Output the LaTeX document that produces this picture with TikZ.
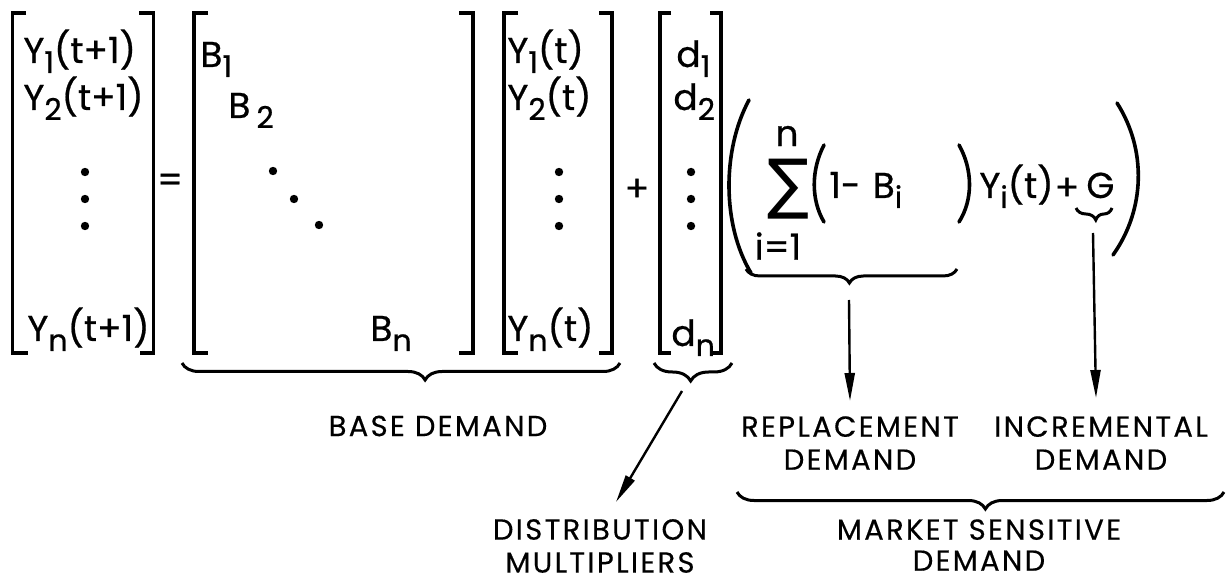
\documentclass[tikz,border=0pt]{standalone}
\usepackage{fontspec}
\setmainfont{Poppins}[FakeBold=0.6]
\newfontfamily\symfont{DejaVu Sans}
\newfontfamily\lblfont{Poppins}[LetterSpace=8, FakeBold=0.4]
\usetikzlibrary{arrows.meta,decorations.pathreplacing}
\tikzset{
  >={Triangle[length=14pt,width=5pt]},
  bkt/.style={line width=1.6pt, line join=miter},
  prn/.style={line width=1.8pt, line cap=round},
  brc/.style args={#1/#2}{
    decorate, line width=1.5pt,
    decoration={brace, mirror, amplitude=#1, aspect=#2}
  },
  arr/.style={->, line width=1.2pt},
  ent/.style={inner sep=0pt, anchor=base west, font=\fontsize{18}{20}\selectfont},
  sym/.style={inner sep=0pt, font=\fontsize{18}{20}\selectfont},
  lbl/.style={inner sep=0pt, align=center, font=\lblfont\fontsize{14.5}{16.5}\selectfont},
  dotc/.style={fill, circle, inner sep=0pt, minimum size=4.2pt},
}
\newcommand\sub[1]{\raisebox{-5pt}{\fontsize{15}{15}\selectfont #1}}

\begin{document}
\begin{tikzpicture}[x=0.5pt, y=-0.5pt]
  \useasboundingbox (0,0) rectangle (1226,582);

  % left hand side
  \draw[bkt] (26,13) -- (12.5,13) -- (12.5,353) -- (28,353);
  \draw[bkt] (139,13) -- (153.5,13) -- (153.5,353) -- (140,353);
  \node[ent] (lhs1) at (23,63) {Y\sub{1}(t+1)};
  \node[ent] (lhs2) at (23,110) {Y\sub{2}(t+1)};
  \node[ent] (lhsn) at (27,341) {Y\sub{n}(t+1)};
  \foreach \yy in {172,199,226} \node[dotc] at (85,\yy) {};

  \node[sym] (eq) at (170,183) {=};

  % diagonal matrix
  \draw[bkt] (208,13) -- (194,13) -- (194,353) -- (208,353);
  \draw[bkt] (459,13) -- (473,13) -- (473,353) -- (459,353);
  \node[ent] (b1) at (200,67) {B\sub{1}};
  \node[ent] (b2) at (228,118) {B\,\sub{2}};
  \node[ent] (bn) at (370,341) {B\sub{n}};
  \node[dotc] (dg1) at (273,171) {};
  \node[dotc] (dg2) at (294,199) {};
  \node[dotc] (dg3) at (319,225) {};

  % Y(t)
  \draw[bkt] (518,13) -- (504,13) -- (504,353) -- (518,353);
  \draw[bkt] (599,13) -- (612,13) -- (612,353) -- (599,353);
  \node[ent] (y1) at (507,63) {Y\sub{1}(t)};
  \node[ent] (y2) at (507,110) {Y\sub{2}(t)};
  \node[ent] (yn) at (507,341) {Y\sub{n}(t)};
  \foreach \yy in {172,199,226} \node[dotc] at (559,\yy) {};

  \node[sym] (plus) at (637,190) {+};

  % d vector
  \draw[bkt] (671,13) -- (660,13) -- (660,353) -- (671,353);
  \draw[bkt] (710,13) -- (721,13) -- (721,353) -- (710,353);
  \node[ent] (d1) at (676,67) {d\sub{1}};
  \node[ent] (d2) at (673,110) {d\sub{2}};
  \node[ent] (dn) at (671,346) {d\sub{n}};
  \foreach \yy in {172,199,226} \node[dotc] at (691,\yy) {};

  % market sensitive term
  \draw[prn] (749,100) .. controls (722,150) and (722,225) .. (751,273);
  \draw[prn] (1117,103) .. controls (1147,150) and (1145,210) .. (1113,255);
  \node[sym] (supn) at (787,136) {n};
  \node[inner sep=0pt] (sigma) at (788,189)
    {\resizebox*{21pt}{30pt}{\symfont ∑}};
  \node[sym] (subi) at (778,246) {i=1};
  \draw[prn] (824,145) .. controls (811,170) and (811,200) .. (824,222);
  \node[ent] (onemb) at (829,198) {1-\hspace{6pt}B\sub{i}};
  \draw[prn] (959,145) .. controls (973,170) and (973,200) .. (959,222);
  \node[ent] (yit) at (979,198) {Y\sub{i}(t)};
  \node[sym] (plus2) at (1067,189) {+};
  \node[ent] (gg) at (1086,198) {G};

  % braces
  \draw[brc=8.5pt/0.555] (182,363) -- (620,363);
  \draw[brc=9pt/0.47] (654,363) -- (732,363);
  \draw[brc=7pt/0.49] (746,269) -- (957,269);
  \draw[brc=6pt/0.55] (1076,208) -- (1112,208);
  \draw[brc=8.5pt/0.51] (737,492) -- (1224,492);

  % labels
  \node[lbl] (base) at (438,426) {BASE DEMAND};
  \node[lbl] (dist) at (600,546) {DISTRIBUTION\\MULTIPLIERS};
  \node[lbl] (repl) at (850,443) {REPLACEMENT\\DEMAND};
  \node[lbl] (incr) at (1101,443) {INCREMENTAL\\DEMAND};
  \node[lbl, font=\lblfont\fontsize{14.5}{15.5}\selectfont] (market) at (979,545) {MARKET SENSITIVE\\DEMAND};

  % arrows
  \coordinate (dfrom) at (682,391);
  \coordinate (dto) at (616,502);
  \coordinate (rfrom) at (849,300);
  \coordinate (rto) at (850,401);
  \coordinate (gfrom) at (1093,233);
  \coordinate (gto) at (1096,398);
  \draw[arr] (dfrom) -- (dto);
  \draw[arr] (rfrom) -- (rto);
  \draw[arr] (gfrom) -- (gto);
\end{tikzpicture}
\end{document}
